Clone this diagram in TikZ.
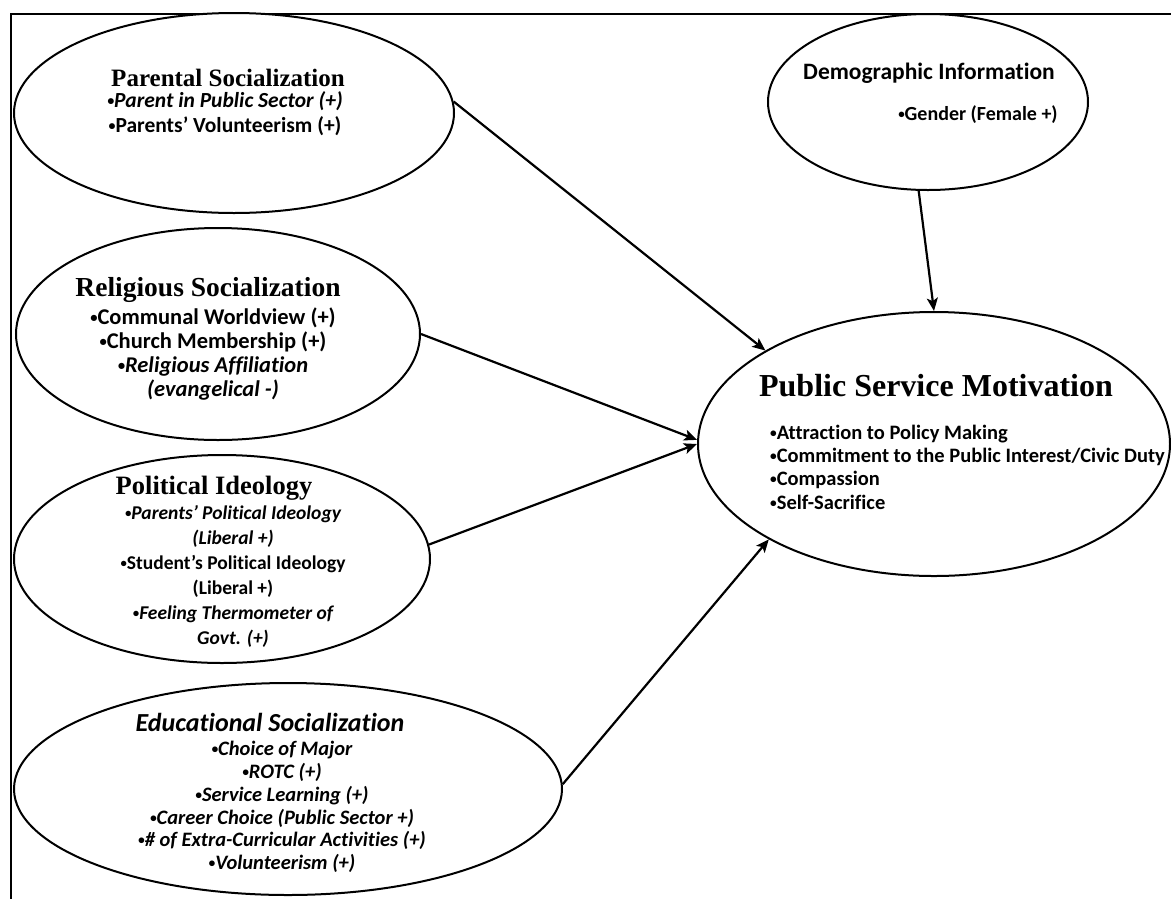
\documentclass[tikz,border=0pt]{standalone}
\usepackage{fontspec}
\usepackage{graphicx}
\setmainfont{Carlito}[Ligatures=NoCommon]
\newfontfamily\headfont{Liberation Serif}
\usetikzlibrary{shapes.geometric,arrows.meta}
\tikzset{
  oval/.style={draw, ellipse, line width=2pt, inner sep=0pt, fill=white},
  link/.style={line width=2.2pt, -{Stealth[length=13pt, width=11pt, inset=3pt]}},
  txt/.style={inner sep=0pt, align=center, font=\bfseries},
}
\newcommand{\fs}[2]{\fontsize{#1}{#2}\selectfont}
\newcommand{\bu}{\raisebox{0.1em}{\scalebox{0.65}{•}}}
\begin{document}
\begin{tikzpicture}[x=1pt, y=-1pt]
  \useasboundingbox (0,0) rectangle (1171,898);
  % outer frame (open to the right and bottom)
  \begin{scope}
    \clip (0,0) rectangle (1171,898);
    \draw[line width=2.5pt] (11,920) -- (11,14) -- (1190,14);
  \end{scope}

  % ovals
  \node[oval, minimum width=440pt, minimum height=200pt] (par) at (234,113) {};
  \node[oval, minimum width=404pt, minimum height=212pt] (rel) at (218,334) {};
  \node[oval, minimum width=416pt, minimum height=208pt] (pol) at (222,559) {};
  \node[oval, minimum width=548pt, minimum height=212pt] (edu) at (288,789) {};
  \node[oval, minimum width=320pt, minimum height=176pt] (dem) at (928,102) {};
  \node[oval, minimum width=472pt, minimum height=264pt] (psm) at (934,444) {};

  % Parental socialization
  \node[txt, font=\headfont\bfseries\fs{25}{29}] (parT) at (228,78) {Parental Socialization};
  \node[txt, font=\bfseries\fs{21.5}{25}] (parB) at (225,113.5)
    {\itshape \bu Parent in Public Sector (+)\\ \bu Parents’ Volunteerism (+)};

  % Religious socialization
  \node[txt, font=\headfont\bfseries\fs{27.5}{31}] (relT) at (208,290) {Religious Socialization};
  \node[txt, font=\bfseries\fs{22.5}{24}] (relB) at (213,354)
    {\bu Communal Worldview (+)\\ \bu Church Membership (+)\\ \itshape \bu Religious Affiliation\\ \itshape (evangelical -)};

  % Political ideology
  \node[txt, font=\headfont\bfseries\fs{26.5}{30}] (polT) at (214,488) {Political Ideology};
  \node[txt, font=\bfseries\fs{19.5}{25}] (polB) at (233,576.5)
    {\itshape \bu Parents’ Political Ideology\\ \itshape (Liberal +)\\ \bu Student’s Political Ideology\\ (Liberal +)\\ \itshape \bu Feeling Thermometer of\\ \itshape Govt. (+)};

  % Educational socialization
  \node[txt, font=\bfseries\itshape\fs{26}{28}] (eduT) at (270,722) {Educational Socialization};
  \node[txt, font=\bfseries\itshape\fs{20.5}{22.8}] (eduB) at (282,807)
    {\bu Choice of Major\\ \bu ROTC (+)\\ \bu Service Learning (+)\\ \bu Career Choice (Public Sector +)\\ \bu \# of Extra-Curricular Activities (+)\\ \bu Volunteerism (+)};

  % Demographic information
  \node[txt, font=\bfseries\fs{23.5}{26}] (demT) at (929,73) {Demographic Information};
  \node[txt, font=\bfseries\fs{20}{22}] (demB) at (978,115) {\bu Gender (Female +)};

  % Public service motivation
  \node[txt, font=\headfont\bfseries\fs{32}{36}] (psmT) at (936,386) {Public Service Motivation};
  \node[txt, align=left, anchor=west, font=\bfseries\fs{20.5}{23.3}] (psmB) at (770,467)
    {\bu Attraction to Policy Making\\ \bu Commitment to the Public Interest/Civic Duty\\ \bu Compassion\\ \bu Self-Sacrifice};

  % paths of influence
  \draw[link] (par.3) -- (psm.151);
  \draw[link] (rel.0) -- (psm.179.3);
  \draw[link] (pol.4) -- (psm.180.5);
  \draw[link] (edu.1) -- (psm.210);
  \draw[link] (dem.264) -- (psm.90);
\end{tikzpicture}
\end{document}
